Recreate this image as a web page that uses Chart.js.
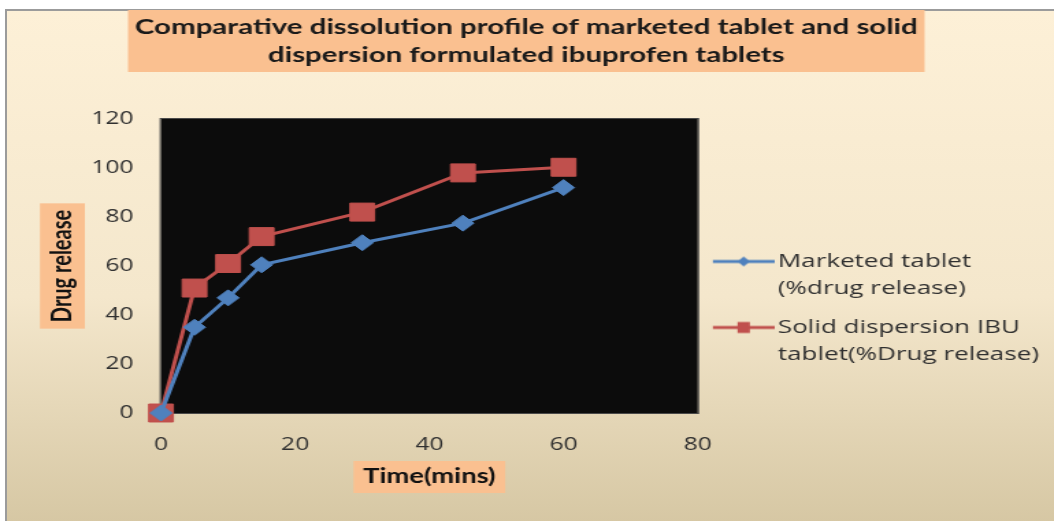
<!DOCTYPE html>
<html>
<head>
<meta charset="utf-8">
<script src="https://cdn.jsdelivr.net/npm/chart.js@4/dist/chart.umd.min.js"></script>
<style>
  html, body { margin: 0; padding: 0; background: #ffffff; width: 1054px; height: 521px; overflow: hidden; }
  #frame {
    position: absolute; left: 5px; top: 9px; width: 1060px; height: 520px;
    border-left: 2px solid #9b9b9b; border-top: 2px solid #9b9b9b;
    background: linear-gradient(to bottom, #fdf0d7 0%, #f4e7cc 55%, #d5c6a2 100%);
  }
  /* the drawing is laid out narrow and widened horizontally */
  #chart {
    position: absolute; left: 0; top: 0; width: 770px; height: 521px;
    transform: scaleX(1.3688); transform-origin: 0 0;
  }
</style>
</head>
<body>
<div id="frame"></div>
<canvas id="chart" width="770" height="521"></canvas>
<script>
// Dissolution data: time points (minutes) and % drug released
const timeMins = [0, 5, 10, 15, 30, 45, 60];
const marketedRelease = [0, 35, 47, 60.5, 69.5, 77.5, 92];
const solidDispersionRelease = [0, 51, 61, 72, 82, 98, 100.3];

const seriesNames = [
  ['Marketed tablet', '(%drug release)'],
  ['Solid dispersion IBU', 'tablet(%Drug release)']
];
const chartTitle = [
  'Comparative dissolution profile of marketed tablet and solid',
  'dispersion formulated ibuprofen tablets'
];
const xTickValues = [0, 20, 40, 60, 80];
const yTickValues = [0, 20, 40, 60, 80, 100, 120];
const xAxisTitle = 'Time(mins)';
const yAxisTitle = 'Drug release';

const BLUE = '#4F81BD';
const RED = '#C0504D';
const LABEL_BG = '#FAC090';
const TEXT_GREY = '#303030';

// small line-with-marker swatches for the legend
function legendSymbol(color, shape) {
  const c = document.createElement('canvas');
  c.width = 51; c.height = 16;
  const g = c.getContext('2d');
  g.strokeStyle = color; g.lineWidth = 3;
  g.beginPath(); g.moveTo(6, 8); g.lineTo(51, 8); g.stroke();
  g.fillStyle = color;
  const cx = 28.5, cy = 8;
  g.beginPath();
  if (shape === 'diamond') {
    g.moveTo(cx - 4.5, cy); g.lineTo(cx, cy - 5); g.lineTo(cx + 4.5, cy); g.lineTo(cx, cy + 5);
  } else {
    g.rect(cx - 4.5, cy - 5.5, 9, 11);
  }
  g.closePath(); g.fill();
  return c;
}
const legendSymbols = [legendSymbol(BLUE, 'diamond'), legendSymbol(RED, 'square')];

const titleFont = { family: 'Lato', weight: 'bold', size: 21.5, lineHeight: 28 / 21.5 };
const axisTitleFont = { family: 'Lato', weight: 'bold', size: 20, lineHeight: 1.2 };
const tickFont = { family: 'Open Sans', weight: '500', size: 18, lineHeight: 1.2 };

// orange label panels and the black plotting area
const panels = {
  id: 'panels',
  beforeDraw(chart) {
    const { ctx, chartArea } = chart;
    ctx.save();
    ctx.fillStyle = '#0c0c0c';
    ctx.fillRect(chartArea.left, chartArea.top, chartArea.right - chartArea.left, chartArea.bottom - chartArea.top);
    ctx.strokeStyle = '#4a4a4a'; ctx.lineWidth = 1;
    ctx.strokeRect(chartArea.left - 0.5, chartArea.top - 0.5, chartArea.right - chartArea.left + 1, chartArea.bottom - chartArea.top + 1);

    ctx.fillStyle = LABEL_BG;
    // chart title panel
    const tb = chart.titleBlock;
    ctx.font = `bold ${titleFont.size}px ${titleFont.family}`;
    const tw = Math.max(...chartTitle.map(s => ctx.measureText(s).width)) + 10;
    const tcx = (tb.left + tb.right) / 2;
    const tTop = tb.top + 13 - 3;
    ctx.fillRect(tcx - tw / 2, tTop, tw, 2 * 28 + 6);

    ctx.font = `bold ${axisTitleFont.size}px ${axisTitleFont.family}`;
    // y axis title panel
    const ys = chart.scales.y;
    const ycx = ys.left + 12 + 33.6;
    const ycy = (ys.top + ys.bottom) / 2;
    const yl = ctx.measureText(yAxisTitle).width + 13;
    ctx.fillRect(ycx - 16.4, ycy - yl / 2, 32.8, yl);
    // x axis title panel
    const xs = chart.scales.x;
    const xcx = (xs.left + xs.right) / 2;
    const xcy = xs.bottom - 12 - 32;
    const xl = ctx.measureText(xAxisTitle).width + 14;
    ctx.fillRect(xcx - xl / 2, xcy - 16, xl, 32);
    ctx.restore();
  }
};

new Chart(document.getElementById('chart'), {
  type: 'line',
  data: {
    datasets: [
      {
        label: seriesNames[0].join(' '),
        data: timeMins.map((t, i) => ({ x: t, y: marketedRelease[i] })),
        borderColor: BLUE, backgroundColor: BLUE,
        borderWidth: 3, pointStyle: 'rectRot', pointRadius: 8,
        pointBorderWidth: 1, pointBorderColor: BLUE, pointBackgroundColor: BLUE,
        tension: 0, clip: false
      },
      {
        label: seriesNames[1].join(' '),
        data: timeMins.map((t, i) => ({ x: t, y: solidDispersionRelease[i] })),
        borderColor: RED, backgroundColor: RED,
        borderWidth: 3, pointStyle: 'rect', pointRadius: 12.7,
        pointBorderWidth: 1, pointBorderColor: RED, pointBackgroundColor: RED,
        tension: 0, clip: false
      }
    ]
  },
  options: {
    responsive: false,
    animation: false,
    devicePixelRatio: 1,
    layout: { padding: { left: 0, right: 1, top: 0, bottom: 0 } },
    scales: {
      x: {
        type: 'linear', min: 0, max: 80,
        afterBuildTicks: s => { s.ticks = xTickValues.map(v => ({ value: v })); },
        afterFit: s => { s.height = 108; },
        grid: { display: false, drawTicks: false },
        border: { display: false },
        ticks: { color: TEXT_GREY, font: tickFont, padding: 21, maxRotation: 0 },
        title: { display: true, text: xAxisTitle, color: '#111111', font: axisTitleFont, padding: { top: 0, bottom: 32 } }
      },
      y: {
        type: 'linear', min: 0, max: 120,
        afterBuildTicks: s => { s.ticks = yTickValues.map(v => ({ value: v })); },
        afterFit: s => { s.width = 117.6; },
        grid: { display: false, drawTicks: false },
        border: { display: false },
        ticks: { color: TEXT_GREY, font: tickFont, padding: 20 },
        title: { display: true, text: yAxisTitle, color: '#111111', font: axisTitleFont, padding: { top: 33.6, bottom: 0 } }
      }
    },
    plugins: {
      tooltip: { enabled: false },
      title: {
        display: true, text: chartTitle, color: '#1a1a1a', font: titleFont,
        padding: { top: 13, bottom: 50 }
      },
      legend: {
        position: 'right', align: 'start', maxWidth: 320,
        title: { display: true, text: '', font: { size: 10, lineHeight: 1 }, padding: { top: 230, bottom: 0 } },
        labels: {
          usePointStyle: true, pointStyleWidth: 37, padding: 12,
          color: TEXT_GREY,
          font: { family: 'Open Sans', weight: '500', size: 19, lineHeight: 27 / 19 },
          generateLabels: chart => chart.data.datasets.map((ds, i) => ({
            text: seriesNames[i], pointStyle: legendSymbols[i],
            fillStyle: ds.borderColor, strokeStyle: ds.borderColor, lineWidth: 0,
            fontColor: TEXT_GREY, hidden: false, datasetIndex: i
          }))
        }
      }
    }
  },
  plugins: [panels]
});
</script>
</body>
</html>
